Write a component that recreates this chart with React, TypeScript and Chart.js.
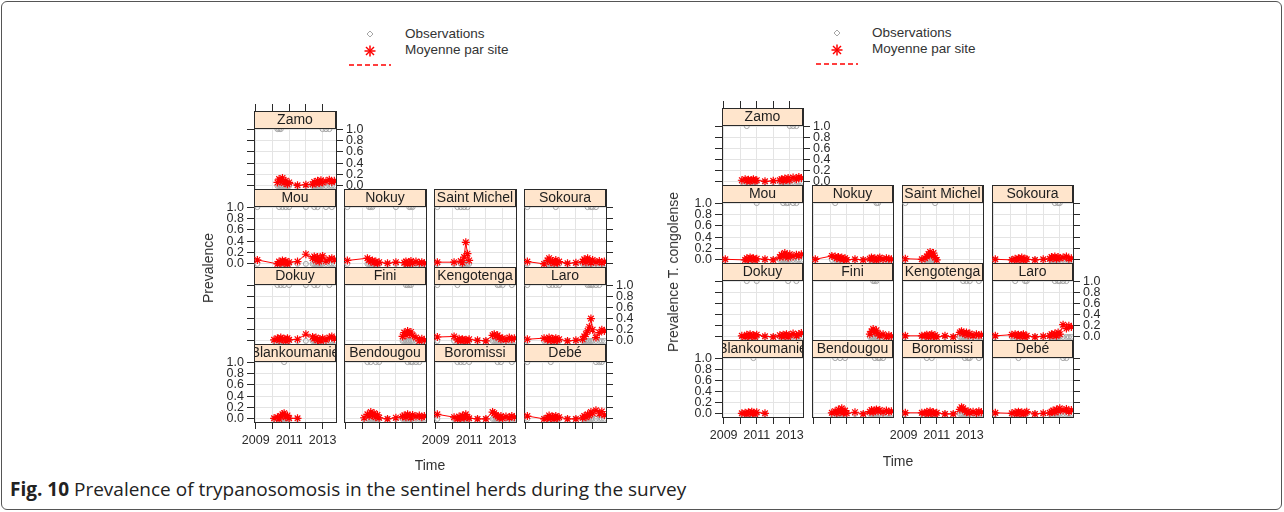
import React, { useEffect, useRef } from 'react';
import { Chart, registerables } from 'chart.js';
Chart.register(...registerables);

const FONT = '"Liberation Sans", Arial, Helvetica, sans-serif';
const _ = null;

// survey visit times (decimal years)
const sampleTimes = [2009.1, 2010.1, 2010.3, 2010.4, 2010.5, 2010.6, 2010.7, 2010.8, 2010.9, 2011.0, 2011.5, 2012.0, 2012.4, 2012.5, 2012.6, 2012.7, 2012.8, 2012.9, 2013.0, 2013.2, 2013.4, 2013.55, 2013.7];

const xTickYears = [2009, 2010, 2011, 2012, 2013];
const xLabelYears = [2009, 2011, 2013];
const yTickValues = [0, 0.2, 0.4, 0.6, 0.8, 1.0];

const rowsOfSites = [
  ['Zamo'],
  ['Mou', 'Nokuy', 'Saint Michel', 'Sokoura'],
  ['Dokuy', 'Fini', 'Kengotenga', 'Laro'],
  ['Blankoumanie', 'Bendougou', 'Boromissi', 'Debé'],
];

// ---- Prevalence (all trypanosomes): mean per site ----
const allZamo = [_, _, 0.06, 0.12, 0.08, 0.14, 0.05, 0.09, 0.03, 0.06, 0.01, 0.02, 0.03, 0.07, 0.04, 0.09, 0.05, 0.1, 0.06, 0.08, 0.11, 0.07, 0.09];
const allMou = [0.07, _, 0.0, 0.04, 0.02, 0.06, 0.01, 0.05, 0.0, 0.03, 0.04, 0.17, 0.1, 0.13, 0.06, 0.12, 0.04, 0.09, 0.14, 0.05, 0.08, 0.1, 0.07];
const allNokuy = [0.06, _, 0.1, 0.07, 0.04, 0.06, 0.02, 0.04, 0.01, 0.03, 0.01, 0.03, _, 0.02, 0.04, 0.0, 0.03, 0.05, 0.01, 0.04, 0.02, 0.03, 0.01];
const allSaintMichel = [0.03, 0.03, _, _, 0.05, 0.02, 0.12, 0.38, 0.18, 0.06, _, _, _, _, _, _, _, _, _, _, _, _, _];
const allSokoura = [0.04, 0.0, 0.06, 0.1, 0.03, 0.05, 0.01, 0.07, 0.02, 0.04, 0.01, 0.02, 0.04, 0.08, 0.03, 0.1, 0.05, 0.02, 0.07, 0.03, 0.05, 0.02, 0.04];
const allDokuy = [_, 0.02, 0.05, 0.01, 0.06, 0.03, 0.04, 0.0, 0.05, 0.02, 0.03, 0.12, 0.07, 0.04, 0.06, 0.01, 0.03, 0.0, 0.05, 0.02, 0.06, 0.08, 0.04];
const allFini = [_, _, _, _, _, _, _, _, _, _, _, _, 0.08, 0.15, 0.1, 0.18, 0.12, 0.16, 0.1, 0.06, 0.0, 0.04, 0.01];
const allKengotenga = [0.07, 0.08, 0.02, 0.04, 0.0, 0.03, 0.01, 0.02, 0.0, 0.03, 0.01, 0.0, 0.1, 0.12, 0.08, 0.1, 0.06, 0.03, 0.05, 0.02, 0.06, 0.03, 0.05];
const allLaro = [0.03, 0.05, 0.02, 0.06, 0.01, 0.04, 0.0, 0.05, 0.02, 0.03, 0.0, 0.01, 0.03, 0.08, 0.12, 0.18, 0.25, 0.4, 0.2, 0.06, 0.15, 0.2, 0.18];
const allBlankoumanie = [_, 0.01, 0.03, 0.0, 0.05, 0.08, 0.1, 0.03, 0.06, 0.01, 0.01, _, _, _, _, _, _, _, _, _, _, _, _];
const allBendougou = [_, 0.02, 0.08, 0.05, 0.12, 0.06, 0.1, 0.03, 0.07, 0.02, 0.0, 0.02, 0.04, 0.06, 0.03, 0.08, 0.05, 0.02, 0.07, 0.04, 0.06, 0.03, 0.05];
const allBoromissi = [0.08, 0.03, 0.0, 0.04, 0.01, 0.06, 0.02, 0.08, 0.03, 0.01, 0.0, 0.0, 0.12, 0.1, 0.07, 0.04, 0.02, 0.05, 0.01, 0.04, 0.02, 0.05, 0.03];
const allDebe = [0.05, 0.0, 0.02, 0.06, 0.01, 0.04, 0.0, 0.05, 0.02, 0.03, 0.0, 0.0, 0.02, 0.05, 0.03, 0.08, 0.06, 0.12, 0.1, 0.15, 0.09, 0.13, 0.07];

// ---- Prevalence (all): observations equal to 1 ----
const obsAllZamo = [2010.3, 2010.4, 2010.5, 2013.0, 2013.2, 2013.4];
const obsAllMou = [2009.1, 2010.4, 2010.6, 2010.8, 2011.0, 2012.0, 2012.5, 2012.7, 2013.2, 2013.55];
const obsAllNokuy = [2009.1, 2010.4, 2010.5, 2010.6, 2012.0, 2012.8, 2012.9, 2013.0];
const obsAllSaintMichel = [2009.1, 2010.3, 2010.5, 2010.7, 2010.9];
const obsAllSokoura = [2009.1, 2010.8, 2012.7, 2012.9, 2013.0, 2013.2];
const obsAllDokuy = [2010.3, 2010.5, 2010.7, 2011.0, 2012.0, 2012.5, 2012.7, 2013.4];
const obsAllFini = [2012.6, 2012.7, 2012.8, 2012.9];
const obsAllKengotenga = [2009.1, 2010.3, 2012.7, 2012.8, 2013.0, 2013.55];
const obsAllLaro = [2009.1, 2010.4, 2010.6, 2010.8, 2011.0, 2012.7, 2012.8, 2012.9, 2013.0, 2013.2, 2013.4];
const obsAllBlankoumanie = [2010.7];
const obsAllBendougou = [2010.3, 2010.5, 2010.8, 2011.0, 2012.7, 2012.9, 2013.0, 2013.2, 2013.4];
const obsAllBoromissi = [2010.3, 2010.5, 2010.7, 2011.0, 2012.7, 2012.9, 2013.55];
const obsAllDebe = [2009.1, 2010.5, 2013.2, 2013.4, 2013.55];

// ---- Prevalence T. congolense: mean per site ----
const tcZamo = [_, 0.03, 0.05, 0.02, 0.04, 0.01, 0.03, 0.05, 0.02, 0.03, 0.01, 0.02, 0.03, 0.05, 0.02, 0.06, 0.04, 0.07, 0.03, 0.08, 0.05, 0.09, 0.07];
const tcMou = [0.01, _, 0.0, 0.03, 0.01, 0.04, 0.02, 0.03, 0.0, 0.02, 0.01, 0.0, 0.05, 0.09, 0.06, 0.12, 0.08, 0.04, 0.1, 0.06, 0.09, 0.07, 0.1];
const tcNokuy = [0.01, 0.07, 0.06, 0.03, 0.05, 0.02, 0.04, 0.01, 0.03, 0.0, 0.01, 0.0, 0.02, 0.04, 0.01, 0.03, 0.0, 0.02, 0.04, 0.01, 0.03, 0.02, 0.01];
const tcSaintMichel = [0.02, 0.01, 0.03, 0.06, 0.1, 0.14, 0.08, 0.12, 0.04, 0.0, _, _, _, _, _, _, _, _, _, _, _, _, _];
const tcSokoura = [0.01, 0.0, 0.02, 0.0, 0.03, 0.01, 0.04, 0.0, 0.02, 0.01, 0.0, 0.01, 0.02, 0.05, 0.03, 0.06, 0.02, 0.05, 0.03, 0.04, 0.06, 0.02, 0.03];
const tcDokuy = [_, 0.02, 0.0, 0.04, 0.02, 0.05, 0.01, 0.03, 0.0, 0.04, 0.01, 0.0, 0.03, 0.01, 0.04, 0.02, 0.05, 0.0, 0.03, 0.06, 0.02, 0.05, 0.07];
const tcFini = [_, _, _, _, _, _, _, _, _, _, _, _, 0.05, 0.1, 0.14, 0.08, 0.12, 0.06, 0.02, 0.05, 0.0, 0.03, 0.01];
const tcKengotenga = [0.02, 0.02, 0.02, 0.04, 0.0, 0.03, 0.05, 0.01, 0.03, 0.0, 0.02, 0.0, 0.08, 0.1, 0.07, 0.05, 0.08, 0.03, 0.06, 0.02, 0.05, 0.03, 0.04];
const tcLaro = [0.02, 0.04, 0.05, 0.02, 0.04, 0.01, 0.03, 0.05, 0.0, 0.02, 0.0, 0.01, 0.02, 0.05, 0.03, 0.06, 0.02, 0.08, 0.05, 0.22, 0.15, 0.2, 0.18];
const tcBlankoumanie = [_, 0.01, 0.02, 0.0, 0.03, 0.01, 0.04, 0.02, 0.0, 0.03, 0.01, _, _, _, _, _, _, _, _, _, _, _, _];
const tcBendougou = [_, 0.02, 0.05, 0.01, 0.08, 0.03, 0.1, 0.02, 0.06, 0.01, 0.03, 0.0, 0.04, 0.07, 0.03, 0.06, 0.08, 0.05, 0.07, 0.03, 0.06, 0.04, 0.05];
const tcBoromissi = [0.02, 0.02, 0.01, 0.04, 0.0, 0.05, 0.02, 0.03, 0.0, 0.02, 0.0, 0.0, 0.08, 0.12, 0.1, 0.06, 0.03, 0.05, 0.02, 0.04, 0.01, 0.05, 0.03];
const tcDebe = [0.02, 0.01, 0.03, 0.0, 0.04, 0.01, 0.03, 0.0, 0.02, 0.04, 0.0, 0.01, 0.02, 0.04, 0.06, 0.03, 0.08, 0.05, 0.1, 0.06, 0.09, 0.04, 0.07];

// ---- Prevalence T. congolense: observations equal to 1 ----
const obsTcZamo = [2010.4, 2013.0, 2013.2, 2013.4];
const obsTcMou = [2011.0, 2012.6, 2012.8, 2012.9, 2013.2, 2013.4];
const obsTcNokuy = [2010.3, 2012.8, 2012.9];
const obsTcSaintMichel = [2009.1, 2010.9];
const obsTcSokoura = [2012.7, 2012.9, 2013.0];
const obsTcDokuy = [2010.4, 2011.0, 2012.9, 2013.4];
const obsTcFini = [2012.6, 2012.7, 2012.8];
const obsTcKengotenga = [2012.6, 2012.8, 2013.0, 2013.55];
const obsTcLaro = [2010.3, 2010.9, 2011.0, 2012.7, 2012.9, 2013.0, 2013.2, 2013.4];
const obsTcBlankoumanie = [2010.8];
const obsTcBendougou = [2010.3, 2010.6, 2010.9, 2012.7, 2012.9, 2013.0, 2013.2];
const obsTcBoromissi = [2010.4, 2010.7, 2012.7, 2012.9, 2013.0, 2013.55];
const obsTcDebe = [2010.5, 2013.2, 2013.4];

const allMeans: Record<string, (number | null)[]> = {
  Zamo: allZamo, Mou: allMou, Nokuy: allNokuy, 'Saint Michel': allSaintMichel, Sokoura: allSokoura,
  Dokuy: allDokuy, Fini: allFini, Kengotenga: allKengotenga, Laro: allLaro,
  Blankoumanie: allBlankoumanie, Bendougou: allBendougou, Boromissi: allBoromissi, 'Debé': allDebe,
};
const allObs: Record<string, number[]> = {
  Zamo: obsAllZamo, Mou: obsAllMou, Nokuy: obsAllNokuy, 'Saint Michel': obsAllSaintMichel, Sokoura: obsAllSokoura,
  Dokuy: obsAllDokuy, Fini: obsAllFini, Kengotenga: obsAllKengotenga, Laro: obsAllLaro,
  Blankoumanie: obsAllBlankoumanie, Bendougou: obsAllBendougou, Boromissi: obsAllBoromissi, 'Debé': obsAllDebe,
};
const tcMeans: Record<string, (number | null)[]> = {
  Zamo: tcZamo, Mou: tcMou, Nokuy: tcNokuy, 'Saint Michel': tcSaintMichel, Sokoura: tcSokoura,
  Dokuy: tcDokuy, Fini: tcFini, Kengotenga: tcKengotenga, Laro: tcLaro,
  Blankoumanie: tcBlankoumanie, Bendougou: tcBendougou, Boromissi: tcBoromissi, 'Debé': tcDebe,
};
const tcObs: Record<string, number[]> = {
  Zamo: obsTcZamo, Mou: obsTcMou, Nokuy: obsTcNokuy, 'Saint Michel': obsTcSaintMichel, Sokoura: obsTcSokoura,
  Dokuy: obsTcDokuy, Fini: obsTcFini, Kengotenga: obsTcKengotenga, Laro: obsTcLaro,
  Blankoumanie: obsTcBlankoumanie, Bendougou: obsTcBendougou, Boromissi: obsTcBoromissi, 'Debé': obsTcDebe,
};

// ---- layout constants ----
const PADL = 44, PADR = 44, PADT = 12, PADB = 30;
const STRIP = 17;
const X_MIN = 2008.9, X_MAX = 2013.8;
const Y_MIN = -0.055, Y_TOP = 1.02;
const TICK_LEN = 7;
const GRID = '#e4e4e4';
const INK = '#2a2a2a';

type Flags = {
  topTicks: boolean; leftTicks: boolean; leftLabels: boolean;
  rightTicks: boolean; rightLabels: boolean; bottomTicks: boolean; bottomLabels: boolean;
};

function Panel(props: { name: string; means: (number | null)[]; obs: number[]; left: number; top: number; width: number; height: number; flags: Flags }) {
  const ref = useRef<HTMLCanvasElement>(null);
  const { name, means, obs, left, top, width, height, flags } = props;
  const cw = width + PADL + PADR;
  const ch = height + PADT + PADB;
  useEffect(() => {
    if (!ref.current) return;
    const plotH = height - STRIP;
    const yMax = Y_TOP + (STRIP * (Y_TOP - Y_MIN)) / plotH;
    const meanPts = sampleTimes
      .map((t, i) => ({ x: t, y: means[i] }))
      .filter((p) => p.y !== null) as { x: number; y: number }[];
    const obsPts = obs.map((t) => ({ x: t, y: 1 })).concat(meanPts.map((p) => ({ x: p.x, y: 0 })));
    const tickFont = { family: FONT, size: 12.5 };
    const stripPlugin = {
      id: 'strip',
      afterDatasetsDraw(chart: any) {
        const { ctx, chartArea: a } = chart;
        const w = a.right - a.left;
        ctx.save();
        ctx.fillStyle = '#FFE5CC';
        ctx.fillRect(a.left, a.top, w, STRIP);
        ctx.save();
        ctx.beginPath();
        ctx.rect(a.left, a.top, w, STRIP);
        ctx.clip();
        ctx.fillStyle = '#1e1e1e';
        ctx.font = `14px ${FONT}`;
        ctx.textAlign = 'center';
        ctx.textBaseline = 'middle';
        ctx.fillText(name, a.left + w / 2, a.top + STRIP / 2 + 1);
        ctx.restore();
        ctx.strokeStyle = INK;
        ctx.lineWidth = 1;
        ctx.strokeRect(a.left + 0.5, a.top + 0.5, w - 1, STRIP);
        ctx.restore();
      },
    };
    const xTicksBuild = (s: any) => { s.ticks = xTickYears.map((v) => ({ value: v })); };
    const yTicksBuild = (s: any) => { s.ticks = yTickValues.map((v) => ({ value: v })); };
    const chart = new Chart(ref.current, {
      type: 'scatter',
      data: {
        datasets: [
          {
            data: meanPts,
            showLine: true,
            borderColor: '#ff0000',
            borderWidth: 1,
            pointStyle: 'star',
            pointRadius: 4,
            pointBorderColor: '#ff0000',
            pointBackgroundColor: '#ff0000',
            pointBorderWidth: 1.2,
          } as any,
          {
            data: obsPts,
            showLine: false,
            pointStyle: 'circle',
            pointRadius: 2.5,
            pointBorderColor: '#a6a6a6',
            pointBackgroundColor: 'rgba(0,0,0,0)',
            pointBorderWidth: 1,
          } as any,
        ],
      },
      options: {
        responsive: false,
        animation: false,
        events: [],
        layout: { padding: 0, autoPadding: false } as any,
        plugins: { legend: { display: false }, tooltip: { enabled: false }, title: { display: false } },
        scales: {
          x: {
            type: 'linear', axis: 'x', position: 'bottom', min: X_MIN, max: X_MAX,
            afterBuildTicks: xTicksBuild,
            afterFit: (s: any) => { s.height = PADB; },
            grid: { color: GRID, lineWidth: 1, drawTicks: flags.bottomTicks, tickLength: TICK_LEN, tickColor: INK, tickWidth: 1 },
            border: { display: true, color: INK, width: 1 },
            ticks: {
              display: flags.bottomLabels, autoSkip: false, maxRotation: 0, minRotation: 0, padding: 4,
              font: tickFont, color: '#2a2a2a',
              callback: (v: any) => (xLabelYears.includes(Number(v)) ? String(v) : ''),
            },
          },
          xTop: {
            type: 'linear', axis: 'x', position: 'top', min: X_MIN, max: X_MAX,
            afterBuildTicks: xTicksBuild,
            afterFit: (s: any) => { s.height = PADT; },
            grid: { drawOnChartArea: false, drawTicks: flags.topTicks, tickLength: TICK_LEN, tickColor: INK, color: INK, tickWidth: 1 },
            border: { display: true, color: INK, width: 1 },
            ticks: { display: false },
          },
          y: {
            type: 'linear', axis: 'y', position: 'left', min: Y_MIN, max: yMax,
            afterBuildTicks: yTicksBuild,
            afterFit: (s: any) => { s.width = PADL; },
            grid: { color: GRID, lineWidth: 1, drawTicks: flags.leftTicks, tickLength: TICK_LEN, tickColor: INK, tickWidth: 1 },
            border: { display: true, color: INK, width: 1 },
            ticks: {
              display: flags.leftLabels, autoSkip: false, padding: 3, font: tickFont, color: '#2a2a2a',
              callback: (v: any) => Number(v).toFixed(1),
            },
          },
          yRight: {
            type: 'linear', axis: 'y', position: 'right', min: Y_MIN, max: yMax,
            afterBuildTicks: yTicksBuild,
            afterFit: (s: any) => { s.width = PADR; },
            grid: { drawOnChartArea: false, drawTicks: flags.rightTicks, tickLength: TICK_LEN, tickColor: INK, color: INK, tickWidth: 1 },
            border: { display: true, color: INK, width: 1 },
            ticks: {
              display: flags.rightLabels, autoSkip: false, padding: 3, font: tickFont, color: '#2a2a2a',
              callback: (v: any) => Number(v).toFixed(1),
            },
          },
        } as any,
      },
      plugins: [stripPlugin],
    });
    return () => chart.destroy();
  }, []);
  return (
    <canvas
      ref={ref}
      width={cw}
      height={ch}
      style={{ position: 'absolute', left: left - PADL, top: top - PADT, width: cw, height: ch }}
    />
  );
}

function Legend(props: { x: number; y: number }) {
  const { x, y } = props;
  const textStyle: React.CSSProperties = { position: 'absolute', fontFamily: FONT, fontSize: 13.5, color: '#333', lineHeight: '16px', whiteSpace: 'nowrap' };
  return (
    <>
      <svg style={{ position: 'absolute', left: x - 45, top: y - 10, overflow: 'visible' }} width={60} height={50}>
        <polygon points="45,7 48,10 45,13 42,10" fill="none" stroke="#a6a6a6" strokeWidth={1} />
        <g stroke="#ff0000" strokeWidth={1.5}>
          <line x1={45} y1={21.5} x2={45} y2={32.5} />
          <line x1={39.5} y1={27} x2={50.5} y2={27} />
          <line x1={41} y1={23} x2={49} y2={31} />
          <line x1={41} y1={31} x2={49} y2={23} />
        </g>
        <line x1={24} y1={41} x2={66} y2={41} stroke="#ff0000" strokeWidth={1.5} strokeDasharray="5 3" />
      </svg>
      <div style={{ ...textStyle, left: x + 35, top: y - 8 }}>Observations</div>
      <div style={{ ...textStyle, left: x + 35, top: y + 8 }}>Moyenne par site</div>
    </>
  );
}

function Lattice(props: {
  x0: number; y0: number; yEnd: number; colStep: number; width: number;
  means: Record<string, (number | null)[]>; obs: Record<string, number[]>;
  yTitle: string; yTitleX: number; yTitleY: number; timeX: number; timeY: number;
  legendX: number; legendY: number;
}) {
  const p = props;
  const rowStep = (p.yEnd - p.y0) / 4;
  const panels: React.ReactNode[] = [];
  rowsOfSites.forEach((row, r) => {
    const top = Math.round(p.y0 + r * rowStep);
    const bottom = Math.round(p.y0 + (r + 1) * rowStep);
    row.forEach((name, c) => {
      const isRight = c === row.length - 1;
      const flags: Flags = {
        topTicks: r === 0,
        leftTicks: c === 0,
        leftLabels: c === 0 && (r === 1 || r === 3),
        rightTicks: isRight,
        rightLabels: isRight && (r === 0 || r === 2),
        bottomTicks: r === 3,
        bottomLabels: r === 3 && (c === 0 || c === 2),
      };
      panels.push(
        <Panel
          key={name}
          name={name}
          means={p.means[name]}
          obs={p.obs[name]}
          left={Math.round(p.x0 + c * p.colStep)}
          top={top}
          width={p.width}
          height={bottom - top}
          flags={flags}
        />
      );
    });
  });
  return (
    <>
      <Legend x={p.legendX} y={p.legendY} />
      {panels}
      <div
        style={{
          position: 'absolute', left: p.yTitleX, top: p.yTitleY, transform: 'translate(-50%, -50%) rotate(-90deg)',
          fontFamily: FONT, fontSize: 14, color: '#333', whiteSpace: 'nowrap',
        }}
      >
        {p.yTitle}
      </div>
      <div
        style={{
          position: 'absolute', left: p.timeX, top: p.timeY, transform: 'translate(-50%, -50%)',
          fontFamily: FONT, fontSize: 14, color: '#333', whiteSpace: 'nowrap',
        }}
      >
        Time
      </div>
    </>
  );
}

export default function App() {
  return (
    <div style={{ position: 'fixed', left: 0, top: 0, width: 1284, height: 512, background: '#fff', overflow: 'hidden' }}>
      <div
        style={{
          position: 'absolute', left: 1, top: 1, width: 1281, height: 509, boxSizing: 'border-box',
          border: '1px solid #555', borderRadius: 6,
        }}
      />
      <Lattice
        x0={254} y0={111} yEnd={422} colStep={90} width={82}
        means={allMeans} obs={allObs}
        yTitle="Prevalence" yTitleX={208} yTitleY={268} timeX={430} timeY={465}
        legendX={370} legendY={34}
      />
      <Lattice
        x0={722} y0={108} yEnd={417} colStep={90} width={81}
        means={tcMeans} obs={tcObs}
        yTitle="Prevalence T. congolense" yTitleX={673} yTitleY={272} timeX={898} timeY={461}
        legendX={837} legendY={33}
      />
      <div
        style={{
          position: 'absolute', left: 10, top: 477, fontFamily: '"Open Sans", "Noto Sans", sans-serif',
          fontSize: 19, lineHeight: '24px', color: '#222', whiteSpace: 'nowrap',
        }}
      >
        <b>Fig. 10</b> Prevalence of trypanosomosis in the sentinel herds during the survey
      </div>
    </div>
  );
}
